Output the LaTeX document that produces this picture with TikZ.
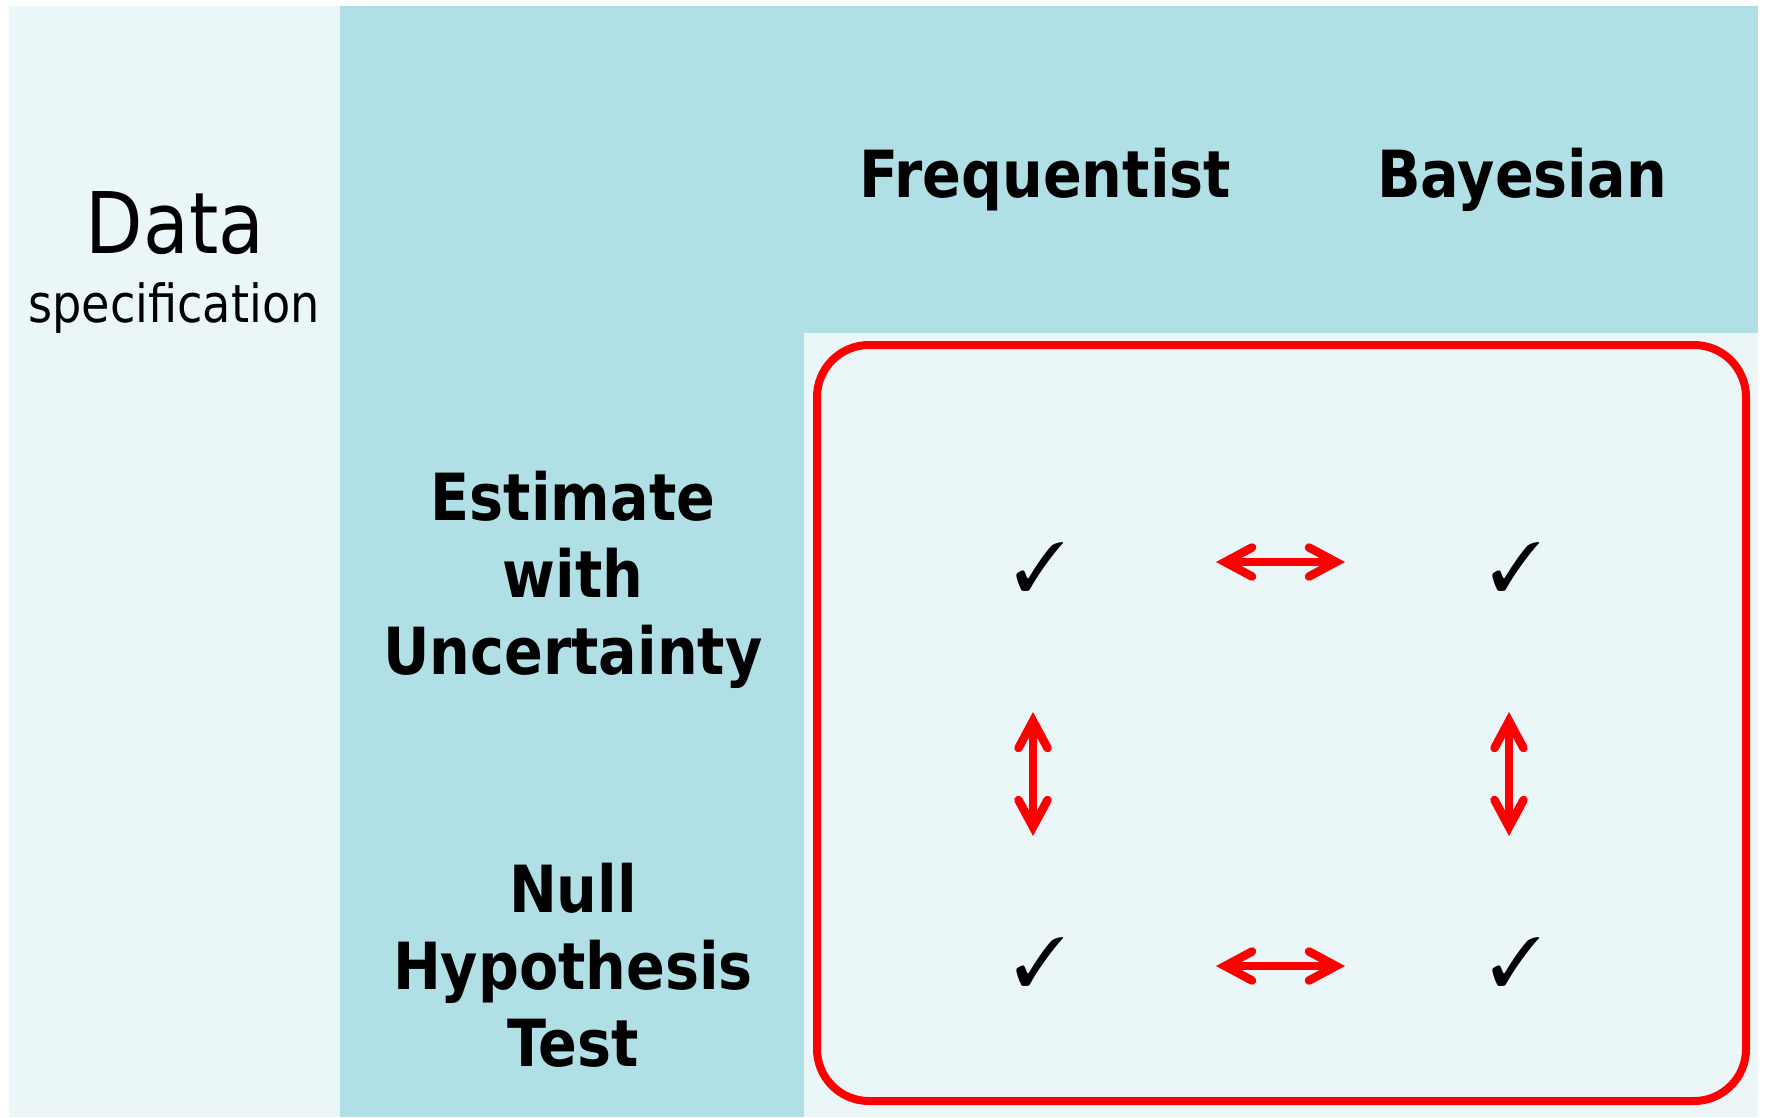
\documentclass[tikz,border=0pt]{standalone}
\usepackage{fontspec}
\usepackage{pifont}
\setmainfont{DejaVu Sans}
\newfontfamily\hfont{DejaVu Sans}[FakeStretch=0.88]
\usetikzlibrary{arrows.meta}
\definecolor{tealbg}{HTML}{B0DFE5}
\definecolor{palebg}{HTML}{EBF6F8}
\begin{document}
\begin{tikzpicture}[x=1pt,y=-1pt,
  hdr/.style={font=\hfont\bfseries\fontsize{65}{77}\selectfont, anchor=base, align=center, inner sep=0pt},
  chk/.style={font=\fontsize{68}{68}\selectfont, inner sep=0pt},
  dbl/.style={red, line width=8.5pt, {Straight Barb[length=27pt,width=29pt,line cap=round]}-{Straight Barb[length=27pt,width=29pt,line cap=round]}}]
\path[use as bounding box] (0,0) rectangle (1766,1117);
\fill[white] (0,0) rectangle (1766,1117);
\fill[palebg] (9,6) rectangle (1758,1117);
\fill[tealbg] (340,6) rectangle (1758,333);
\fill[tealbg] (340,6) rectangle (804,1117);
\draw[red, line width=8pt, rounded corners=52pt] (817,345) rectangle (1746,1101);
\node[font=\hfont\fontsize{85}{85}\selectfont, anchor=base, inner sep=0pt] (data) at (175,253) {Data};
\node[font=\hfont\fontsize{52.5}{52.5}\selectfont, anchor=base, inner sep=0pt] (spec) at (174,322) {specification};
\node[hdr] (freq) at (1045,197) {Frequentist};
\node[hdr] (bayes) at (1522,197) {Bayesian};
\node[hdr] (est) at (573,674) {Estimate\\with\\Uncertainty};
\node[hdr] (nht) at (573,1066) {Null\\Hypothesis\\Test};
\node[chk] (c11) at (1040,567) {\ding{51}};
\node[chk] (c12) at (1516,567) {\ding{51}};
\node[chk] (c21) at (1040,962) {\ding{51}};
\node[chk] (c22) at (1516,962) {\ding{51}};
\coordinate (h1a) at (1216,562);
\coordinate (h1b) at (1345,562);
\coordinate (h2a) at (1216,966);
\coordinate (h2b) at (1345,966);
\coordinate (v1a) at (1033,712);
\coordinate (v1b) at (1033,836);
\coordinate (v2a) at (1509,712);
\coordinate (v2b) at (1509,836);
\draw[dbl] (h1a) -- (h1b);
\draw[dbl] (h2a) -- (h2b);
\draw[dbl] (v1a) -- (v1b);
\draw[dbl] (v2a) -- (v2b);
\end{tikzpicture}
\end{document}
